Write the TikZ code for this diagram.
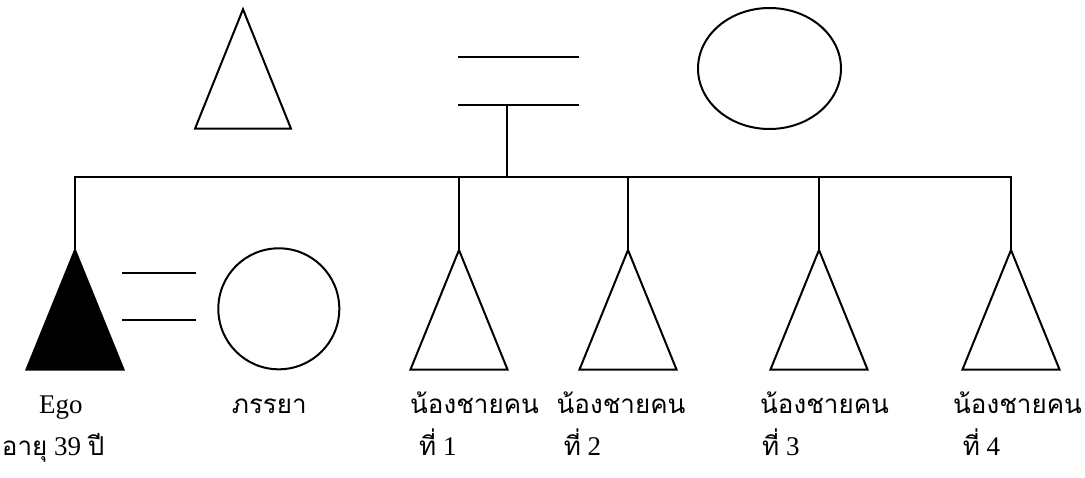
\documentclass[tikz,border=0pt]{standalone}
\usepackage{fontspec}
\setmainfont{Liberation Serif}
\newfontfamily\thaifont[Script=Thai]{Loma}
\newcommand{\thx}[1]{{\thaifont\fontsize{26}{30}\selectfont #1}}
\begin{document}
\begin{tikzpicture}[x=1pt,y=-1pt,
  shp/.style={draw=black, line width=2pt, line join=miter},
  conn/.style={draw=black, line width=2pt},
  lbl/.style={anchor=base west, inner sep=0pt, font=\fontsize{27}{30}\selectfont}]
\useasboundingbox (0,0) rectangle (1085,477);
% parents
\draw[shp] (243,9.3) -- (291,128.7) -- (195,128.7) -- cycle;
\draw[shp] (769.5,68.5) ellipse [x radius=71.5pt, y radius=60.5pt];
\coordinate (m1a) at (458,57);   \coordinate (m1b) at (579,57);
\coordinate (m2a) at (458,105);  \coordinate (m2b) at (579,105);
\coordinate (stem) at (507,105);
\draw[conn] (m1a) -- (m1b);
\draw[conn] (m2a) -- (m2b);
% sibling line
\coordinate (jE) at (75,177);
\coordinate (j1) at (459,177);
\coordinate (j2) at (628,177);
\coordinate (j3) at (819,177);
\coordinate (j4) at (1011,177);
\coordinate (jS) at (507,177);
\draw[conn] (stem) -- (jS);
\draw[conn, line join=miter] (jE |- 0,250) -- (jE) -- (j4) -- (j4 |- 0,250);
% apexes
\coordinate (aE) at (75,250);
\coordinate (a1) at (459,250);
\coordinate (a2) at (628,250);
\coordinate (a3) at (819,250);
\coordinate (a4) at (1011,250);
\draw[conn] (j1) -- (a1);
\draw[conn] (j2) -- (a2);
\draw[conn] (j3) -- (a3);
% children
\draw[shp, fill=black] (aE) -- (123.5,369.5) -- (26.5,369.5) -- cycle;
\foreach \a in {a1,a2,a3,a4}
  \draw[shp] (\a) -- ++(48.5,119.5) -- ++(-97,0) -- cycle;
% Ego marriage
\coordinate (e1a) at (122.3,273); \coordinate (e1b) at (195.7,273);
\coordinate (e2a) at (122.3,320); \coordinate (e2b) at (195.7,320);
\draw[conn] (e1a) -- (e1b);
\draw[conn] (e2a) -- (e2b);
\draw[shp] (278.8,308.8) circle [radius=60.5pt];
% labels
\node[lbl] (tE) at (39,413) {Ego};
\node[lbl] (tE2) at (1.7,455) {\thx{อายุ} 39 \thx{ปี}};
\node[lbl] (tW) at (231.7,413) {\thx{ภรรยา}};
\node[lbl] (t1) at (410,413) {\thx{น้องชายคน}};
\node[lbl] (t1b) at (419,455) {\thx{ที่} 1};
\node[lbl] (t2) at (556.5,413) {\thx{น้องชายคน}};
\node[lbl] (t2b) at (563.6,455) {\thx{ที่} 2};
\node[lbl] (t3) at (760,413) {\thx{น้องชายคน}};
\node[lbl] (t3b) at (762,455) {\thx{ที่} 3};
\node[lbl] (t4) at (953,413) {\thx{น้องชายคน}};
\node[lbl] (t4b) at (962.6,455) {\thx{ที่} 4};
\end{tikzpicture}
\end{document}
